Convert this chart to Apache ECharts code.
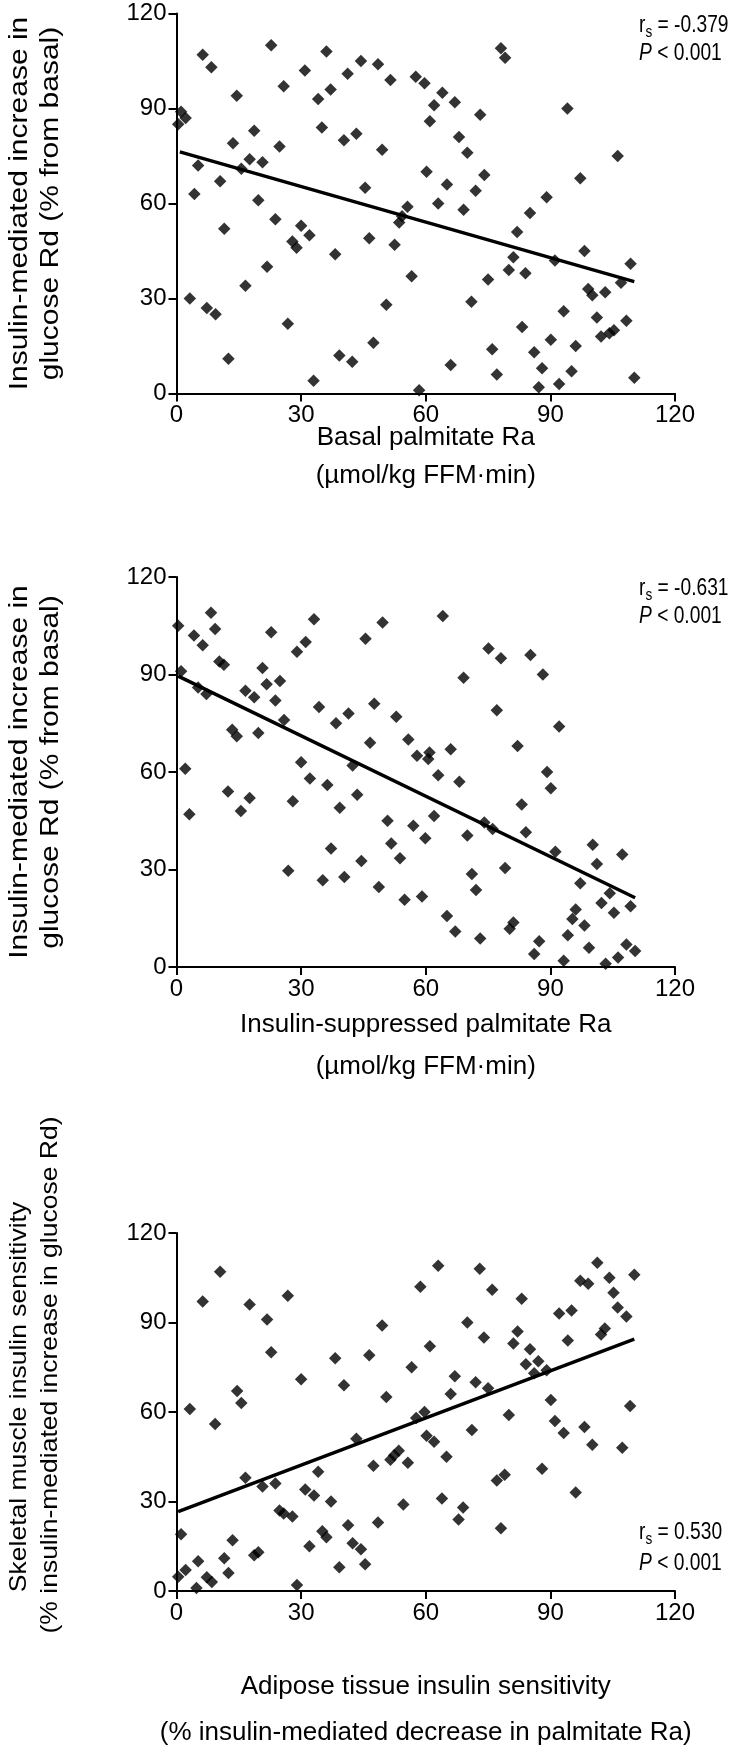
<!DOCTYPE html>
<html>
<head>
<meta charset="utf-8">
<script src="https://cdn.jsdelivr.net/npm/echarts@6/dist/echarts.min.js"></script>
<style>
html,body{margin:0;padding:0;background:#fff;}
#chart{width:750px;height:1764px;}
</style>
</head>
<body>
<div id="chart"></div>
<script>
// ---------- DATA ----------
const xTicks = [0, 30, 60, 90, 120];
const yTicks = [0, 30, 60, 90, 120];

// Panel 1: Basal palmitate Ra vs insulin-mediated increase in glucose Rd
const panel1Points = [
 [6.3,107],[8.4,103],[22.8,110],[36.1,108],[30.9,102],[25.8,97],[14.5,94],[44.4,105],[48.5,104],[41.2,101],
 [37.1,96],[34.1,93],[51.5,99],[57.6,100],[59.7,98],[1.1,89],[2.2,87],[0.4,85],[18.7,83],[35,84],
 [13.6,79],[24.8,78],[40.3,80],[43.3,82],[49.5,77],[5.2,72],[17.6,74],[20.7,73],[15.6,71],[60.2,70],
 [10.5,67],[4.3,63],[19.7,61],[45.4,65],[55.6,59],[53.6,54],[54.3,56],[23.8,55],[11.5,52],[30,53],
 [32,50],[27.9,48],[28.9,46],[38.2,44],[46.4,49],[52.5,47],[21.8,40],[56.6,37],[16.6,34],[3.2,30],
 [7.3,27],[9.4,25],[50.5,28],[26.8,22],[47.4,16],[12.5,11],[39.2,12],[42.3,10],[33,4],[58.4,1],
 [78.1,109],[79.1,106],[64,95],[67,92],[62,91],[61,86],[73.1,88],[94.1,90],[68,81],[70,76],
 [106.2,75],[74.1,69],[97.2,68],[65.1,66],[72,64],[89.1,62],[63,60],[69.1,58],[85.1,57],[82,51],
 [81.1,43],[98.2,45],[109.3,41],[80,39],[84,38],[75,36],[107,35],[91.1,42],[99.1,33],[100.1,31],
 [103.2,32],[71,29],[93.2,26],[101.2,24],[108.3,23],[83.2,21],[102.2,18],[104.2,19],[105.3,20],[90.1,17],
 [96.1,15],[76,14],[86.1,13],[66,9],[88,8],[95.1,7],[77.1,6],[110.2,5],[92.1,3],[87.2,2]
];
const panel1Fit = [[0.8,76.3],[110.2,35.3]];
const panel1Stats = ['-0.379', '< 0.001'];

// Panel 2: Insulin-suppressed palmitate Ra vs insulin-mediated increase in glucose Rd
const panel2Points = [
 [0.4,105],[8.3,109],[4.2,102],[9.3,104],[6.3,99],[22.8,103],[33.1,107],[49.6,106],[45.5,101],[31.1,100],
 [29,97],[10.3,94],[11.4,93],[20.7,92],[1.1,91],[21.7,87],[24.9,88],[5.2,86],[7.2,84],[16.6,85],
 [18.7,83],[23.8,82],[34.3,80],[41.4,78],[47.6,81],[38.4,75],[52.9,77],[25.9,76],[13.4,73],[14.5,71],
 [19.7,72],[46.6,69],[55.8,70],[57.9,65],[60.6,64],[42.4,62],[30,63],[32.1,58],[2.1,61],[36.3,56],
 [43.5,53],[12.4,54],[17.6,52],[15.5,48],[28,51],[39.3,49],[3.1,47],[50.8,45],[57,43.5],[51.7,38],
 [59.9,39.6],[37.2,36.5],[53.8,33.5],[44.5,32.6],[26.9,29.6],[35.2,26.7],[40.4,27.7],[48.7,24.6],[54.9,20.7],[59.1,21.7],
 [64.1,108],[75.1,98],[78.1,95],[85.2,96],[69.1,89],[88.2,90],[77.1,79],[92.1,74],[82.1,68],[60.9,66],
 [66,67],[63,59],[68.1,57],[89.2,60],[90.1,55],[83.1,50],[62,46.5],[74.1,44.5],[76.1,42.5],[70,40.5],
 [84.1,41.5],[91.2,35.5],[100.2,37.6],[101.2,31.7],[107.3,34.6],[79.1,30.5],[71.1,28.6],[72.1,23.7],[97.2,25.8],[104.3,22.7],
 [102.3,19.7],[105.3,16.7],[109.3,18.7],[96.1,17.7],[95.3,14.8],[98.2,12.8],[65.1,15.7],[67.1,10.9],[73.1,8.8],[80.2,11.8],
 [81.1,13.7],[94.2,9.8],[87.3,7.9],[86.1,4],[99.3,5.9],[93.2,1.9],[103.3,1],[106.3,2.9],[108.3,6.9],[110.4,4.9]
];
const panel2Fit = [[0.4,89.5],[110.4,21.3]];
const panel2Stats = ['-0.631', '< 0.001'];

// Panel 3: Adipose tissue vs skeletal muscle insulin sensitivity
const panel3Points = [
 [10.5,107],[6.3,97],[17.6,96],[26.8,99],[21.8,91],[22.8,80],[30,71],[38.2,78],[40.3,69],[46.4,79],
 [49.5,89],[58.7,102],[56.6,75],[50.5,65],[3.2,61],[14.6,67],[15.6,63],[9.3,56],[57.7,58],[59.7,60],
 [60.2,52],[43.3,51],[53.5,47],[52.4,45.5],[51.5,44],[55.7,43],[47.4,42],[34.1,40],[16.6,38],[20.7,35],
 [23.8,36],[31,34],[33.1,32],[37.2,30],[54.6,29],[24.8,27],[25.8,26],[27.9,25],[48.5,23],[41.3,22],
 [35.1,20],[36.1,18],[1.1,19],[13.5,17],[42.4,16],[44.4,14],[32,15],[19.7,13],[18.7,12],[11.5,11],
 [5.2,10],[45.4,9],[39.2,8],[2.2,7],[12.5,6],[7.3,4.6],[0.4,4.8],[4.8,1],[8.5,3],[29,2],
 [63,109],[73,108],[76,101],[83.1,98],[101.3,110],[97.2,104],[99.1,103],[104.2,105],[110.2,106],[105.2,100],
 [106.2,95],[108.3,92],[92.1,93],[95.1,94],[70,90],[82.1,87],[74,85],[81.1,83],[85.1,81],[87.1,77],
 [84.1,76],[86.1,73],[89.1,74],[94.2,84],[103.1,88],[102.2,86],[61,82],[67,72],[72,70],[75,68],
 [66,66],[90.1,64],[109.2,62],[80,59],[91.1,57],[93.2,53],[98.2,55],[100.1,49],[107.3,48],[71.1,54],
 [62,50],[65,45],[88,41],[79,39],[77.1,37],[96.1,33],[63.9,31],[69,28],[67.9,24],[78.1,21]
];
const panel3Fit = [[0.4,26.6],[110.2,84.4]];
const panel3Stats = ['0.530', '< 0.001'];

const xTitles = [
  'Basal palmitate Ra\n(\u00b5mol/kg FFM\u00b7min)',
  'Insulin-suppressed palmitate Ra\n(\u00b5mol/kg FFM\u00b7min)',
  'Adipose tissue insulin sensitivity\n(% insulin-mediated decrease in palmitate Ra)'
];
const yTitles = [
  ['Insulin-mediated increase in', 'glucose Rd (% from basal)'],
  ['Insulin-mediated increase in', 'glucose Rd (% from basal)'],
  ['Skeletal muscle insulin sensitivity', '(% insulin-mediated increase in glucose Rd)']
];

// ---------- LAYOUT / STYLE ----------
const FONT = "'Liberation Sans', Arial, sans-serif";
const grids = [
  {left: 176.5, top: 13.5, width: 498.5, height: 380},
  {left: 176.5, top: 577, width: 498.5, height: 390},
  {left: 176.5, top: 1233, width: 498.5, height: 358}
];
const xNameGap = [25, 37, 73];
const xNameLH = [38, 42, 46];
const yTitleSize = [30, 30, 26.5];
const yTitlePos = [
  [[20, 203.5], [51, 203.5]],
  [[20, 772], [51, 772]],
  [[20, 1397], [51, 1375]]
];
const statPos = [[639, 25, 53], [639, 588, 616], [639, 1532, 1563]];

const allPoints = [panel1Points, panel2Points, panel3Points];
const allFits = [panel1Fit, panel2Fit, panel3Fit];
const allStats = [panel1Stats, panel2Stats, panel3Stats];

const axisLine = {show: true, onZero: false, lineStyle: {color: '#000', width: 2}};
const axisTick = {show: true, inside: false, length: 8, lineStyle: {color: '#000', width: 2}};

const option = {
  animation: false,
  backgroundColor: '#fff',
  grid: grids.map(g => Object.assign({containLabel: false}, g)),
  xAxis: grids.map((g, i) => ({
    type: 'value', gridIndex: i, min: 0, max: 120, interval: 30,
    axisLine, axisTick, splitLine: {show: false},
    axisLabel: {color: '#000', fontSize: 24, fontFamily: FONT, margin: 10},
    name: xTitles[i], nameLocation: 'middle', nameGap: xNameGap[i], nameMoveOverlap: false,
    nameTextStyle: {color: '#000', fontSize: 26, fontFamily: FONT, lineHeight: xNameLH[i], verticalAlign: 'top'}
  })),
  yAxis: grids.map((g, i) => ({
    type: 'value', gridIndex: i, min: 0, max: 120, interval: 30,
    axisLine, axisTick, splitLine: {show: false},
    axisLabel: {color: '#000', fontSize: 24, fontFamily: FONT, margin: 10}
  })),
  series: [],
  graphic: []
};

allPoints.forEach((pts, i) => {
  option.series.push({
    type: 'scatter', xAxisIndex: i, yAxisIndex: i, data: pts,
    symbol: 'diamond', symbolSize: 12.5,
    itemStyle: {color: '#000'}, silent: true
  });
  option.series.push({
    type: 'line', xAxisIndex: i, yAxisIndex: i, data: allFits[i],
    showSymbol: false, symbol: 'none',
    lineStyle: {color: '#000', width: 3.4}, silent: true
  });
});

yTitles.forEach((lines, i) => {
  lines.forEach((t, j) => {
    option.graphic.push({
      type: 'text', x: yTitlePos[i][j][0], y: yTitlePos[i][j][1], rotation: Math.PI / 2, scaleY: 0.88,
      style: {text: t, fill: '#000', fontSize: yTitleSize[i], fontFamily: FONT,
              align: 'center', verticalAlign: 'middle', textAlign: 'center', textVerticalAlign: 'middle'}
    });
  });
});

const STAT_SCALE = 0.8;
allStats.forEach((s, i) => {
  const [x, y1, y2] = statPos[i];
  option.graphic.push({
    type: 'text', x: x, y: y1, scaleX: STAT_SCALE,
    style: {
      text: '{r|r}{s|s}{n| = ' + s[0] + '}',
      fill: '#000', align: 'left', verticalAlign: 'middle', textAlign: 'left', textVerticalAlign: 'middle',
      rich: {
        r: {fontSize: 24, fontFamily: FONT, fill: '#000', lineHeight: 27},
        s: {fontSize: 17, fontFamily: FONT, fill: '#000', lineHeight: 17, padding: [15, 0, 0, 0]},
        n: {fontSize: 24, fontFamily: FONT, fill: '#000', lineHeight: 27}
      }
    }
  });
  option.graphic.push({
    type: 'text', x: x, y: y2, scaleX: STAT_SCALE,
    style: {
      text: '{p|P}{n| ' + s[1] + '}',
      fill: '#000', align: 'left', verticalAlign: 'middle', textAlign: 'left', textVerticalAlign: 'middle',
      rich: {
        p: {fontSize: 24, fontFamily: FONT, fontStyle: 'italic', fill: '#000'},
        n: {fontSize: 24, fontFamily: FONT, fill: '#000'}
      }
    }
  });
});

const chart = echarts.init(document.getElementById('chart'), null, {renderer: 'canvas', width: 750, height: 1764});
chart.setOption(option);
</script>
</body>
</html>
